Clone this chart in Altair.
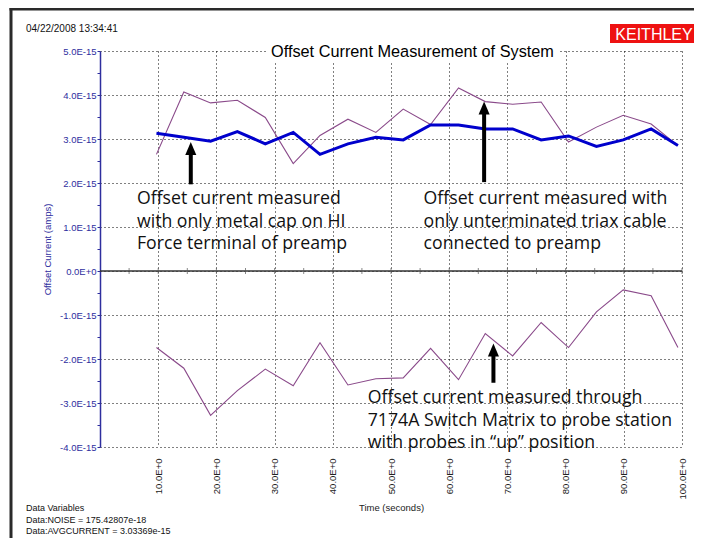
import altair as alt
import pandas as pd

# ---------------- data ----------------
time_s = [9.7, 14.4, 19.0, 23.6, 28.4, 33.2, 37.8, 42.6, 47.4, 52.1,
          56.8, 61.6, 66.2, 70.9, 75.8, 80.5, 85.3, 89.9, 94.7, 99.3]
# current values in units of 1E-15 A
metal_cap = [3.13, 3.04, 2.95, 3.17, 2.89, 3.15, 2.65, 2.89, 3.04, 2.98,
             3.32, 3.32, 3.23, 3.23, 2.98, 3.07, 2.83, 2.98, 3.23, 2.85]
triax = [2.65, 4.07, 3.82, 3.88, 3.49, 2.44, 3.08, 3.45, 3.15, 3.68,
         3.33, 4.16, 3.85, 3.79, 3.84, 2.93, 3.27, 3.54, 3.34, 2.85]
switch_matrix = [-1.74, -2.21, -3.28, -2.72, -2.23, -2.61, -1.63, -2.59, -2.45, -2.43,
                 -1.76, -2.47, -1.42, -1.93, -1.17, -1.74, -0.93, -0.43, -0.56, -1.74]

y_tick_values = [-4.0, -3.5, -3.0, -2.5, -2.0, -1.5, -1.0, -0.5, 0.0, 0.5,
                 1.0, 1.5, 2.0, 2.5, 3.0, 3.5, 4.0, 4.5, 5.0]
x_tick_values = [10, 20, 30, 40, 50, 60, 70, 80, 90, 100]
zero_tick_values = [5, 10, 15, 20, 25, 30, 35, 40, 45, 50, 55, 60, 65, 70, 75, 80, 85, 90, 95, 100]

ann_text = [
    "Offset current measured\nwith only metal cap on HI\nForce terminal of preamp",
    "Offset current measured with\nonly unterminated triax cable\nconnected to preamp",
    "Offset current measured through\n7174A Switch Matrix to probe station\nwith probes in \u201cup\u201d position",
]
ann_t = [6.35, 55.6, 46.0]
ann_v = [1.52, 1.52, -3.0]

arrow_t = [15.6, 66.0, 67.6]
arrow_base = [1.97, 2.02, -2.54]
arrow_tip = [2.93, 3.85, -1.65]

title_text = "Offset Current Measurement of System"
timestamp_text = "04/22/2008 13:34:41"
logo_text = "KEITHLEY"
footer_text = "Data Variables\nData:NOISE = 175.42807e-18\nData:AVGCURRENT = 3.03369e-15"

# ---------------- styling ----------------
AX = "#2e2e9e"
FONT = "Liberation Sans"
PURPLE = "#8a4a8a"
BLUE = "#0000cc"
GRID = "#000000"

xs = alt.Scale(domain=[0, 100], nice=False, zero=False)
ys = alt.Scale(domain=[-4, 5], nice=False, zero=False)

x_axis = alt.Axis(
    values=x_tick_values,
    labelExpr="format(datum.value, '.1f') + 'E+0'",
    labelAngle=-90, labelFont=FONT, labelFontSize=9.5, labelColor="#222",
    labelPadding=11, ticks=False, tickSize=0, domain=False,
    grid=True, gridDash=[1, 3], gridColor=GRID, gridOpacity=1, gridWidth=1,
    title="Time (seconds)", titleFont=FONT, titleFontSize=9.5, titleFontWeight="normal",
    titleColor="#222", titleY=63, titleBaseline="alphabetic",
)
y_axis = alt.Axis(
    values=y_tick_values,
    labelExpr="datum.value % 1 !== 0 ? '' : (datum.value === 0 ? '0.0E+0' : "
              "(datum.value < 0 ? '-' : '') + format(abs(datum.value), '.1f') + 'E-15')",
    labelFont=FONT, labelFontSize=9.5, labelColor=AX, labelPadding=1,
    tickColor=AX, tickSize=3, domainColor=AX, domainWidth=1.5,
    grid=True, gridDash=[1, 3], gridColor=GRID, gridWidth=1,
    gridOpacity={"condition": {"test": "datum.value % 1 === 0", "value": 1}, "value": 0},
    title="Offset Current (amps)", titleFont=FONT, titleFontSize=9.5, titleFontWeight="normal",
    titleColor=AX, titleX=-48, titleY=198, titleBaseline="bottom", titleAngle=270,
)


def X(field="t"):
    return alt.X(f"{field}:Q", scale=xs, axis=x_axis)


def Y(field="v"):
    return alt.Y(f"{field}:Q", scale=ys, axis=y_axis)


df = pd.DataFrame({
    "t": time_s * 3,
    "v": triax + switch_matrix + metal_cap,
    "series": ["triax"] * len(time_s) + ["switch"] * len(time_s) + ["cap"] * len(time_s),
})

purple = alt.Chart(df).transform_filter("datum.series != 'cap'").mark_line(
    color=PURPLE, strokeWidth=1.1
).encode(x=X(), y=Y(), detail="series:N")

blue = alt.Chart(df).transform_filter("datum.series == 'cap'").mark_line(
    color=BLUE, strokeWidth=3
).encode(x=X(), y=Y())

zero_df = pd.DataFrame({"t": zero_tick_values, "v": [0.0] * len(zero_tick_values)})
zero_line = alt.Chart(pd.DataFrame({"t": [0.0], "t2": [100.0], "v": [0.0]})).mark_rule(
    color="#333", strokeWidth=1.3
).encode(x=X(), x2="t2:Q", y=Y())
zero_ticks = alt.Chart(zero_df).mark_tick(orient="vertical", size=6, thickness=1, color="#555").encode(
    x=X(), y=Y()
)

arrow_df = pd.DataFrame({"t": arrow_t, "v": arrow_base, "tip": arrow_tip})
arrow_df["shaft_top"] = arrow_df["tip"] - 0.22
shafts = alt.Chart(arrow_df).mark_rule(color="black", strokeWidth=4).encode(
    x=X(), y=Y(), y2="shaft_top:Q"
)
heads = alt.Chart(arrow_df).mark_point(
    shape="M0,-1L0.85,1L-0.85,1Z", filled=True, opacity=1, color="black", size=169, yOffset=6.5
).encode(x=X(), y=Y("tip"))

ann_df = pd.DataFrame({"t": ann_t, "v": ann_v, "label": ann_text})
annotations = alt.Chart(ann_df).mark_text(
    align="left", baseline="alphabetic", font="Open Sans", fontSize=17.7, lineHeight=22.5,
    lineBreak="\n", color="#111"
).encode(x=X(), y=Y(), text="label:N")

one = pd.DataFrame({"k": [0]})
title_bg = alt.Chart(one).mark_rect(color="white").encode(
    x=alt.value(168), x2=alt.value(458), y=alt.value(-8), y2=alt.value(10)
)
title_mark = alt.Chart(one).mark_text(
    text=title_text, align="left", baseline="alphabetic", font=FONT, fontSize=16.3, color="black"
).encode(x=alt.value(171), y=alt.value(6))
stamp = alt.Chart(one).mark_text(
    text=timestamp_text, align="left", baseline="alphabetic", font=FONT, fontSize=10, color="#111"
).encode(x=alt.value(-74), y=alt.value(-19))
logo_box = alt.Chart(one).mark_rect(color="#ee1111").encode(
    x=alt.value(510), x2=alt.value(597), y=alt.value(-27), y2=alt.value(-8)
)
logo = alt.Chart(one).mark_text(
    text=logo_text, align="center", baseline="alphabetic", font=FONT, fontSize=16, color="white"
).encode(x=alt.value(554), y=alt.value(-11))
footer = alt.Chart(one).mark_text(
    text=footer_text, align="left", baseline="alphabetic", font=FONT, fontSize=9,
    lineHeight=11.5, lineBreak="\n", color="#111"
).encode(x=alt.value(-74), y=alt.value(460))
border_top = alt.Chart(one).mark_rect(color="#2a2a2a").encode(
    x=alt.value(-90.5), x2=alt.value(610), y=alt.value(-43.5), y2=alt.value(-40.5)
)
border_left = alt.Chart(one).mark_rect(color="#2a2a2a").encode(
    x=alt.value(-90.5), x2=alt.value(-87.5), y=alt.value(-43.5), y2=alt.value(500)
)

chart = alt.layer(
    purple, zero_line, zero_ticks, blue, shafts, heads, annotations,
    title_bg, title_mark, stamp, logo_box, logo, footer, border_top, border_left,
).properties(
    width=582, height=396,
    padding={"left": 92, "top": 43, "right": 12, "bottom": 91},
    autosize=alt.AutoSizeParams(type="none"),
    background="white",
).configure_view(strokeWidth=0)

chart.save("out.html", embed_options={"renderer": "svg", "actions": False})
